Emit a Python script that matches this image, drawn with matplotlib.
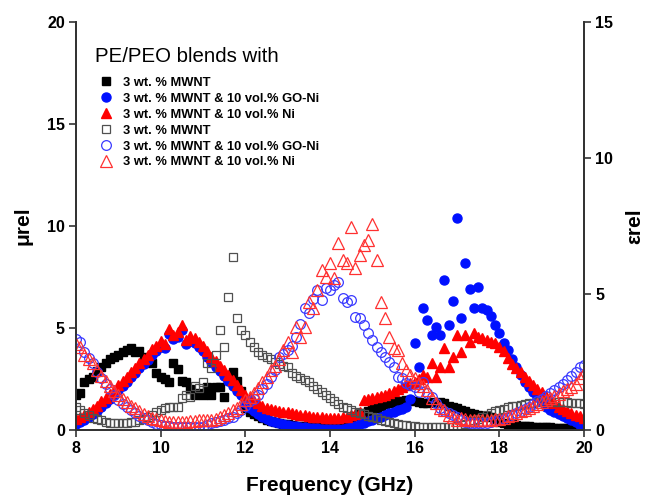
import numpy as np
import matplotlib
matplotlib.use("Agg")
import matplotlib.pyplot as plt

plt.rcParams['font.family'] = ['Liberation Sans', 'DejaVu Sans']

# frequency grid (GHz), 0.1 GHz step
freq = np.round(np.arange(8.0, 20.05, 0.1), 1)

# permeability (left axis), filled markers
mu_mwnt = [1.7, 1.8, 2.35, 2.5, 2.6, 2.9, 3.1, 3.3, 3.5, 3.6,
           3.7, 3.8, 3.9, 4.0, 3.8, 3.85, 3.6, 3.4, 3.3, 2.8,
           2.6, 2.5, 2.35, 3.3, 3.0, 2.4, 2.35, 2.0, 1.7, 1.8,
           1.7, 2.1, 1.7, 2.1, 2.1, 1.6, 2.5, 2.85, 2.4, 1.9,
           1.1, 0.9, 0.8, 0.7, 0.6, 0.5, 0.45, 0.4, 0.35, 0.3,
           0.28, 0.25, 0.22, 0.2, 0.2, 0.2, 0.2, 0.22, 0.25, 0.28,
           0.3, 0.35, 0.4, 0.45, 0.5, 0.6, 0.7, 0.8, 0.85, 0.95,
           1.05, 1.1, 1.2, 1.25, 1.3, 1.35, 1.4, 1.42, 1.45, 1.45,
           1.4, 1.35, 1.3, 1.3, 1.35, 1.3, 1.35, 1.3, 1.2, 1.15,
           1.1, 1.0, 0.95, 0.85, 0.8, 0.75, 0.7, 0.7, 0.65, 0.55,
           0.4, 0.35, 0.3, 0.28, 0.25, 0.22, 0.2, 0.18, 0.17, 0.16,
           0.15, 0.14, 0.13, 0.12, 0.12, 0.12, 0.12, 0.13, 0.14, 0.15,
           0.15]
mu_goni = [0.3, 0.4, 0.5, 0.65, 0.8, 0.95, 1.15, 1.3, 1.5, 1.7,
           1.95, 2.15, 2.35, 2.6, 2.8, 3.05, 3.25, 3.45, 3.7, 3.85,
           4.05, 4.0, 4.7, 4.45, 4.55, 4.9, 4.2, 4.35, 4.25, 4.05,
           3.85, 3.6, 3.35, 3.1, 2.9, 2.65, 2.4, 2.15, 1.9, 1.7,
           1.3, 1.1, 0.95, 0.8, 0.65, 0.55, 0.45, 0.38, 0.32, 0.28,
           0.25, 0.22, 0.2, 0.17, 0.15, 0.12, 0.1, 0.08, 0.06, 0.05,
           0.04, 0.04, 0.05, 0.07, 0.1, 0.15, 0.2, 0.28, 0.35, 0.42,
           0.5, 0.58, 0.66, 0.74, 0.83, 0.9, 0.98, 1.05, 1.13, 1.5,
           4.25, 3.1, 6.0, 5.4, 4.65, 5.05, 4.65, 7.35, 5.15, 6.3,
           10.4, 5.5, 8.2, 6.9, 6.0, 7.0, 6.0, 5.9, 5.6, 5.15,
           4.75, 4.25, 3.9, 3.5, 3.1, 2.7, 2.35, 2.1, 1.85, 1.6,
           1.35, 1.15, 1.0, 0.88, 0.77, 0.67, 0.58, 0.48, 0.38, 0.25,
           0.15]
mu_ni = [0.55, 0.65, 0.75, 0.9, 1.05, 1.2, 1.4, 1.55, 1.75, 1.95,
         2.2, 2.4, 2.6, 2.85, 3.05, 3.3, 3.5, 3.7, 3.95, 4.1,
         4.35, 4.2, 4.95, 4.65, 4.8, 5.15, 4.4, 4.6, 4.5, 4.3,
         4.1, 3.85, 3.6, 3.4, 3.15, 2.95, 2.7, 2.45, 2.2, 1.95,
         1.7, 1.55, 1.4, 1.3, 1.2, 1.1, 1.05, 1.0, 0.95, 0.9,
         0.87, 0.83, 0.8, 0.75, 0.72, 0.68, 0.66, 0.65, 0.62, 0.6,
         0.6, 0.6, 0.6, 0.62, 0.66, 0.72, 0.8, 0.9, 1.45, 1.5,
         1.55, 1.6, 1.65, 1.7, 1.8, 1.9, 2.0, 2.1, 2.2, 2.3,
         2.35, 2.5, 2.7, 2.6, 3.3, 2.6, 3.1, 4.0, 3.1, 3.6,
         4.65, 3.8, 4.65, 4.3, 4.75, 4.55, 4.5, 4.4, 4.3, 4.25,
         4.05, 3.85, 3.55, 3.25, 3.05, 2.85, 2.6, 2.4, 2.2, 2.0,
         1.85, 1.65, 1.45, 1.3, 1.15, 1.05, 0.95, 0.85, 0.75, 0.68,
         0.6]

# permittivity (right axis), open markers
eps_mwnt = [0.85, 0.75, 0.62, 0.55, 0.45, 0.4, 0.35, 0.3, 0.27, 0.26,
            0.26, 0.26, 0.26, 0.28, 0.3, 0.36, 0.42, 0.48, 0.55, 0.65,
            0.74, 0.8, 0.83, 0.85, 0.86, 1.18, 1.3, 1.21, 1.6, 1.55,
            1.76, 2.46, 2.28, 2.76, 3.68, 3.05, 4.9, 6.36, 4.1, 3.68,
            3.5, 3.25, 3.05, 2.85, 2.76, 2.7, 2.6, 2.5, 2.43, 2.37,
            2.3, 2.1, 2.0, 1.92, 1.84, 1.75, 1.62, 1.5, 1.4, 1.3,
            1.18, 1.07, 0.96, 0.86, 0.8, 0.73, 0.67, 0.62, 0.57, 0.52,
            0.48, 0.43, 0.38, 0.33, 0.29, 0.26, 0.23, 0.2, 0.18, 0.16,
            0.14, 0.12, 0.11, 0.1, 0.1, 0.1, 0.1, 0.1, 0.1, 0.12,
            0.14, 0.17, 0.22, 0.28, 0.35, 0.42, 0.48, 0.55, 0.62, 0.68,
            0.74, 0.78, 0.83, 0.87, 0.9, 0.93, 0.96, 0.99, 1.0, 1.02,
            1.03, 1.04, 1.04, 1.04, 1.03, 1.03, 1.02, 1.0, 0.99, 0.98,
            0.97]
eps_goni = [3.35, 3.25, 2.85, 2.65, 2.45, 2.15, 1.9, 1.7, 1.5, 1.3,
            1.1, 0.97, 0.85, 0.72, 0.62, 0.52, 0.43, 0.36, 0.29, 0.23,
            0.18, 0.15, 0.13, 0.12, 0.11, 0.1, 0.1, 0.1, 0.1, 0.11,
            0.12, 0.18, 0.24, 0.3, 0.34, 0.38, 0.43, 0.48, 0.62, 0.75,
            0.9, 1.05, 1.15, 1.3, 1.5, 1.7, 1.95, 2.2, 2.7, 2.8,
            2.94, 3.1, 3.42, 3.9, 4.49, 4.3, 4.8, 5.15, 4.78, 5.22,
            5.15, 5.33, 5.44, 4.85, 4.7, 4.78, 4.15, 4.12, 3.86, 3.57,
            3.31, 3.05, 2.87, 2.68, 2.5, 2.32, 1.95, 1.91, 1.73, 1.65,
            1.58, 1.4, 1.76, 1.36, 1.21, 0.99, 0.8, 0.7, 0.62, 0.55,
            0.48, 0.35, 0.29, 0.27, 0.26, 0.26, 0.26, 0.27, 0.3, 0.33,
            0.37, 0.42, 0.48, 0.55, 0.62, 0.7, 0.78, 0.85, 0.95, 1.05,
            1.15, 1.25, 1.35, 1.47, 1.58, 1.7, 1.84, 2.0, 2.15, 2.3,
            2.39]
eps_ni = [3.15, 3.05, 2.76, 2.6, 2.45, 2.2, 2.0, 1.8, 1.62, 1.45,
          1.3, 1.15, 1.02, 0.9, 0.8, 0.7, 0.6, 0.52, 0.45, 0.4,
          0.36, 0.33, 0.31, 0.3, 0.3, 0.3, 0.31, 0.32, 0.33, 0.35,
          0.37, 0.38, 0.38, 0.42, 0.48, 0.55, 0.63, 0.72, 0.82, 0.95,
          1.1, 1.22, 1.36, 1.55, 1.75, 1.95, 2.2, 2.35, 2.6, 2.94,
          3.24, 2.87, 3.79, 3.42, 3.79, 4.7, 4.49, 5.15, 5.88, 5.63,
          6.14, 5.59, 6.88, 6.25, 6.14, 7.46, 5.96, 6.43, 6.8, 6.99,
          7.57, 6.25, 4.7, 4.12, 3.42, 3.0, 2.94, 2.46, 2.2, 2.02,
          1.9, 1.73, 1.6, 1.47, 1.18, 0.99, 0.81, 0.74, 0.55, 0.48,
          0.37, 0.44, 0.4, 0.37, 0.37, 0.37, 0.37, 0.37, 0.38, 0.4,
          0.42, 0.45, 0.5, 0.56, 0.62, 0.68, 0.74, 0.81, 0.88, 0.95,
          1.03, 1.1, 1.18, 1.26, 1.34, 1.42, 1.5, 1.58, 1.7, 1.9,
          2.1]

labels = ['3 wt. % MWNT', '3 wt. % MWNT & 10 vol.% GO-Ni', '3 wt. % MWNT & 10 vol.% Ni']

fig = plt.figure(figsize=(6.54, 4.99), dpi=100)
ax = fig.add_axes([0.1162, 0.1383, 0.7768, 0.8176])
ax2 = ax.twinx()

h1, = ax.plot(freq, mu_mwnt, 's', color='black', ms=6, ls='none')
h2, = ax.plot(freq, mu_goni, 'o', color='#0010ff', ms=6.5, ls='none')
h3, = ax.plot(freq, mu_ni, '^', color='#ff0000', ms=7.5, ls='none')
h4, = ax2.plot(freq, eps_mwnt, 's', mfc='none', mec='#505050', mew=0.9, ms=6, ls='none')
h5, = ax2.plot(freq, eps_goni, 'o', mfc='none', mec='#3a3aff', mew=0.9, ms=7, ls='none')
h6, = ax2.plot(freq, eps_ni, '^', mfc='none', mec='#ff3030', mew=0.9, ms=8, ls='none')

ax.set_xlim(8, 20)
ax.set_ylim(0, 20)
ax2.set_ylim(0, 15)
ax.set_xticks(range(8, 21, 2))
ax.set_yticks(range(0, 21, 5))
ax2.set_yticks(range(0, 16, 5))

for a in (ax, ax2):
    a.spines['top'].set_visible(False)
    for s in a.spines.values():
        s.set_linewidth(1.3)
        s.set_color('#333333')
    a.tick_params(direction='out', length=5, width=1.2, labelsize=11.5, pad=3, color='#333333')
    for lbl in a.get_xticklabels() + a.get_yticklabels():
        lbl.set_fontweight('bold')

ax.set_xlabel('Frequency (GHz)', fontsize=15, fontweight='bold', labelpad=14)
ax.set_ylabel('μrel', fontsize=15, fontweight='bold', labelpad=10)
ax2.set_ylabel('εrel', fontsize=15, fontweight='bold', rotation=90, labelpad=9)

leg = ax2.legend([h1, h2, h3, h4, h5, h6], labels + labels,
                 title='PE/PEO blends with', loc='upper left',
                 bbox_to_anchor=(0.028, 0.952), frameon=False,
                 prop={'weight': 'bold', 'size': 9.3}, title_fontsize=14.7,
                 alignment='left', handlelength=1.6, handletextpad=0.55,
                 labelspacing=0.3, borderaxespad=0)
leg._legend_box.sep = 8

fig.savefig('out.png', dpi=100)
